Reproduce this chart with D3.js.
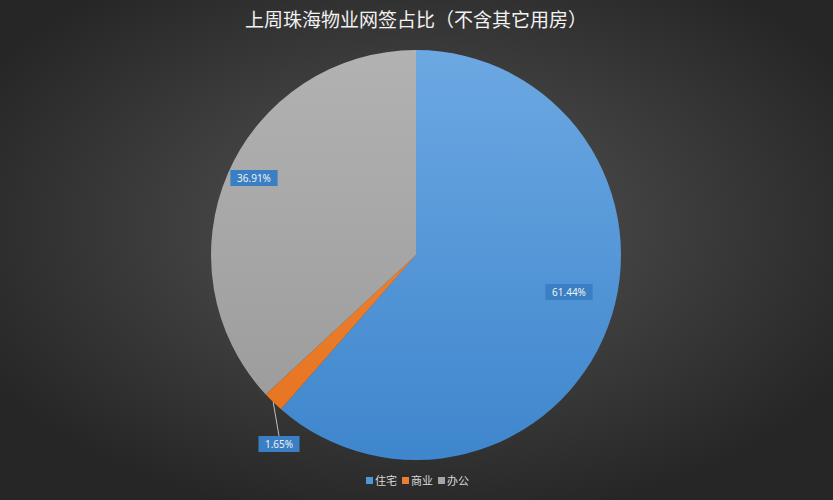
<!DOCTYPE html>
<html>
<head>
<meta charset="utf-8">
<script src="https://cdn.jsdelivr.net/npm/d3@7"></script>
<style>
  body { margin: 0; background: #2a2a2a; }
  svg { display: block; }
</style>
</head>
<body>
<div id="chart"></div>
<script>

// data
var categories = ["住宅", "商业", "办公"];
var shares = [61.44, 1.65, 36.91];
var labels = ["61.44%", "1.65%", "36.91%"];
var colors = ["#4f97d9", "#ed7d31", "#a5a5a5"];

var svgWidth = 833;
var svgHeight = 500;

var svg = d3.select("#chart")
  .append("svg")
  .attr("width", svgWidth)
  .attr("height", svgHeight);

var defs = svg.append("defs");

// background radial gradient
var bg = defs.append("radialGradient")
  .attr("id", "bg")
  .attr("cx", "50%").attr("cy", "45%").attr("r", "60%");
bg.append("stop").attr("offset", "0%").attr("stop-color", "#555555");
bg.append("stop").attr("offset", "100%").attr("stop-color", "#262626");

svg.append("rect")
  .attr("width", svgWidth)
  .attr("height", svgHeight)
  .attr("fill", "url(#bg)");

// slice gradients (lighter top, darker bottom)
var gradStops = [
  ["#6ca8e2", "#3e86cd"],
  ["#f28a3e", "#e5731f"],
  ["#b2b2b2", "#999999"]
];
gradStops.forEach(function(s, i) {
  var g = defs.append("linearGradient")
    .attr("id", "g" + i)
    .attr("gradientUnits", "userSpaceOnUse")
    .attr("x1", 0).attr("y1", -205).attr("x2", 0).attr("y2", 205);
  g.append("stop").attr("offset", "0%").attr("stop-color", s[0]);
  g.append("stop").attr("offset", "100%").attr("stop-color", s[1]);
});

// title
svg.append("text")
  .attr("x", 416)
  .attr("y", 27)
  .attr("text-anchor", "middle")
  .attr("font-family", "'Noto Sans CJK SC', sans-serif")
  .attr("font-size", "19px")
  .attr("fill", "#f2f2f2")
  .text("上周珠海物业网签占比（不含其它用房）");

var cx = 416, cy = 255, radius = 205;

var pieData = categories.map(function(c, i) {
  return { name: c, value: shares[i], label: labels[i], idx: i };
});

var pie = d3.pie().sort(null).value(d => d.value);
var arc = d3.arc().innerRadius(0).outerRadius(radius);

var chartGroup = svg.append("g")
  .attr("transform", `translate(${cx}, ${cy})`);

var arcs = pie(pieData);

chartGroup.selectAll("path")
  .data(arcs)
  .enter()
  .append("path")
  .attr("d", arc)
  .attr("fill", d => "url(#g" + d.data.idx + ")");

// label positions (relative to centre)
var labelPos = [[153, 37], [-137, 189], [-162, -77]];

// leader line for the small slice
var small = arcs[1];
var mid = (small.startAngle + small.endAngle) / 2;
chartGroup.append("line")
  .attr("x1", Math.sin(mid) * radius)
  .attr("y1", -Math.cos(mid) * radius)
  .attr("x2", labelPos[1][0])
  .attr("y2", labelPos[1][1] - 8)
  .attr("stroke", "#bfbfbf")
  .attr("stroke-width", 1);

var labelGroup = chartGroup.selectAll(".lbl")
  .data(arcs)
  .enter()
  .append("g")
  .attr("class", "lbl")
  .attr("transform", d => `translate(${labelPos[d.data.idx][0]}, ${labelPos[d.data.idx][1]})`);

labelGroup.append("rect")
  .attr("x", d => -(d.data.label.length * 3.1 + 5))
  .attr("y", -8)
  .attr("width", d => d.data.label.length * 6.2 + 10)
  .attr("height", 16)
  .attr("fill", "#3a7fc4");

labelGroup.append("text")
  .attr("text-anchor", "middle")
  .attr("dy", "0.35em")
  .attr("font-family", "'Noto Sans', sans-serif")
  .attr("font-size", "10px")
  .attr("fill", "#f0f0f0")
  .text(d => d.data.label);

// legend
var legendX = [366, 402, 438];
var legend = svg.selectAll(".legend")
  .data(categories)
  .enter()
  .append("g")
  .attr("class", "legend")
  .attr("transform", (d, i) => `translate(${legendX[i]}, 481)`);

legend.append("rect")
  .attr("x", 0)
  .attr("y", -4)
  .attr("width", 7)
  .attr("height", 7)
  .attr("fill", (d, i) => colors[i]);

legend.append("text")
  .attr("x", 9)
  .attr("dy", "0.35em")
  .attr("font-family", "'Noto Sans CJK SC', sans-serif")
  .attr("font-size", "11px")
  .attr("fill", "#d9d9d9")
  .text(d => d);

</script>
</body>
</html>
